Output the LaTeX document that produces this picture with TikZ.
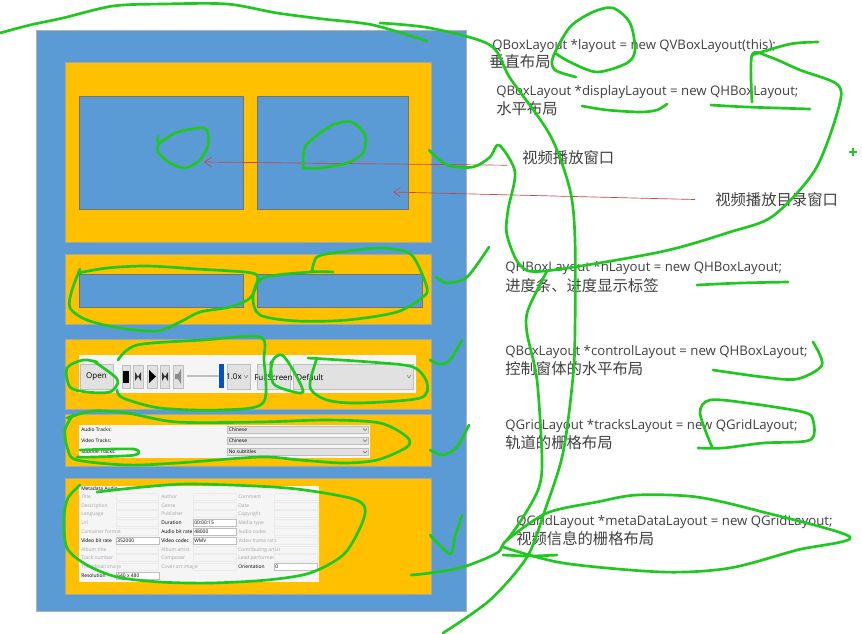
\documentclass[tikz,border=0pt]{standalone}
\usepackage{fontspec}
\setmainfont{Open Sans}
\newfontfamily\cjkfont{Noto Sans CJK SC}
\usetikzlibrary{positioning,calc,arrows.meta}
\definecolor{PanelBlue}{RGB}{91, 155, 213}
\definecolor{PanelGold}{RGB}{255, 192, 0}
\definecolor{InkGreen}{RGB}{30, 200, 30}
\definecolor{TipRed}{RGB}{200, 70, 65}
\definecolor{WidgetGrey}{RGB}{225, 225, 225}
\definecolor{WidgetEdge}{RGB}{190, 190, 190}
\definecolor{FadedText}{RGB}{165, 165, 165}
\tikzset{
    codeline/.style={anchor=west, inner sep=0pt, yshift=-1.1pt, text=black!75, font=\fontsize{9.9pt}{11pt}\selectfont},
    noteline/.style={anchor=west, inner sep=0pt, text=black!75, font=\fontsize{11.5pt}{13pt}\selectfont\cjkfont},
    inkline/.style={draw=InkGreen, line width=2pt, line cap=round, line join=round},
    tipline/.style={draw=TipRed, line width=0.5pt, -{Straight Barb[length=5pt,width=7pt]}},
    panel/.style={fill=PanelGold, draw=black!35, line width=0.3pt},
    screen/.style={fill=PanelBlue, draw=black!55, line width=0.4pt},
    widget/.style={fill=WidgetGrey, draw=WidgetEdge, line width=0.4pt},
    field/.style={fill=white, draw=WidgetEdge, line width=0.4pt},
    tinytext/.style={anchor=west, inner sep=0pt, font=\fontsize{3.7pt}{4pt}\selectfont},
    smalltext/.style={anchor=center, inner sep=0pt, font=\fontsize{6pt}{7pt}\selectfont}
}

\begin{document}
\begin{tikzpicture}[x=0.75pt,y=-0.75pt]
    \useasboundingbox (0,0) rectangle (862,633);
    \fill[white] (0,0) rectangle (862,633);
    \draw[fill=PanelBlue, draw=black!30, line width=0.3pt] (36,30) rectangle (466,611);
    \draw[panel] (65,62) rectangle (431,242);
    \draw[panel] (65,254) rectangle (431,324);
    \draw[panel] (65,339) rectangle (431,409);
    \draw[panel] (65,414) rectangle (431,466);
    \draw[panel] (65,478) rectangle (431,594);
    \draw[screen] (79,96) rectangle (243,209);
    \draw[screen] (257,96) rectangle (408,209);
    \draw[screen] (79,274) rectangle (243,307);
    \draw[screen] (257,274) rectangle (422,307);

    \fill[white!96!black] (79,355) rectangle (416,393);
    \draw[widget] (80,364) rectangle (113,389);
    \node[smalltext] (openBtn) at (96.5,377) {Open};
    \draw[widget] (122,365) rectangle (130,388);
    \fill[black] (123,371) rectangle (129,383);
    \draw[widget] (133,365) rectangle (143,388);
    \fill[black!80] (135,372) -- (138,376.5) -- (135,381) -- cycle (141,372) -- (138,376.5) -- (141,381) -- cycle;
    \draw[widget] (147,365) rectangle (157,388);
    \fill[black] (149,370) -- (156,376.5) -- (149,383) -- cycle;
    \draw[widget] (160,365) rectangle (169,388);
    \fill[black!80] (162,372) -- (165,376.5) -- (162,381) -- cycle (168,372) -- (165,376.5) -- (168,381) -- cycle;
    \draw[widget] (173,365) rectangle (183,388);
    \fill[black!45] (175,374) -- (178,374) -- (181,369) -- (181,384) -- (178,379) -- (175,379) -- cycle;
    \fill[WidgetEdge] (187,374.5) rectangle (220,376.5);
    \fill[blue!60!cyan!80!black] (219,364) rectangle (224,388);
    \draw[widget] (227,364) rectangle (250,389);
    \node[smalltext] (rateBtn) at (234,377) {1.0x};
    \draw[black!60, line width=0.3pt] (244,375) -- (246,378) -- (248,375);
    \draw[widget] (257,364) rectangle (290,389);
    \node[smalltext] (fullBtn) at (273.5,377) {FullScreen};
    \draw[widget] (293,364) rectangle (413,389);
    \node[smalltext, anchor=west] (modeBox) at (296,377) {Default};
    \draw[black!60, line width=0.3pt] (407,375) -- (409,378) -- (411,375);

    \fill[white!96!black] (79,425) rectangle (370,458);
    \foreach \rowy/\txt/\val in {429.5/Audio Tracks:/Chinese,440.5/Video Tracks:/Chinese,452/Subtitle Tracks:/No subtitles}{
        \node[tinytext] at (81,\rowy) {\txt};
        \draw[widget] (227,\rowy-3.7) rectangle (368,\rowy+3.7);
        \node[tinytext] at (228.5,\rowy) {\val};
        \draw[black!60, line width=0.3pt] (363,\rowy-1) -- (365,\rowy+1) -- (367,\rowy-1);
    }

    \fill[white!96!black] (79,486) rectangle (319,582);
    \node[tinytext] (metaHead) at (81,489) {Metadata Audio};
    \foreach \rowy/\one/\two/\three in {497/Title/Author/Comment,506/Description/Genre/Date,514/Language/Publisher/Copyright,523/Url/Duration/Media type,532/Container format/Audio bit rate/Audio codec,541/Video bit rate/Video codec/Video frame rate,550/Album title/Album artist/Contributing artist,558/Track number/Composer/Lead performer,567/Thumbnail image/Cover art image/}{
        \node[tinytext, text=FadedText] at (81,\rowy) {\one};
        \node[tinytext, text=FadedText] at (161,\rowy) {\two};
        \node[tinytext, text=FadedText] at (238,\rowy) {\three};
        \draw[black!8, line width=0.3pt] (116,\rowy-3.5) rectangle (158,\rowy+3.5);
        \draw[black!8, line width=0.3pt] (193,\rowy-3.5) rectangle (236,\rowy+3.5);
        \draw[black!8, line width=0.3pt] (274,\rowy-3.5) rectangle (317,\rowy+3.5);
    }
    \foreach \cx/\rowy/\txt in {161/523/Duration,161/532/Audio bit rate,81/541/Video bit rate,161/541/Video codec,238/567/Orientation,81/576/Resolution}{
        \fill[white!96!black] (\cx,\rowy-2.5) rectangle (\cx+32,\rowy+2.5);
        \node[tinytext, text=black] at (\cx,\rowy) {\txt};
    }
    \foreach \fx/\rowy/\txt in {193/523/00:00:15,193/532/48000,116/541/352000,193/541/WMV,274/567/0,116/576/640 x 480}{
        \draw[field] (\fx,\rowy-3.5) rectangle (\fx+43,\rowy+3.5);
        \node[tinytext] at (\fx+1,\rowy) {\txt};
    }

    \node[codeline] (mainCode) at (492,45) {QBoxLayout *layout = new QVBoxLayout(this);};
    \node[noteline] (mainNote) at (489,62) {垂直布局};
    \node[codeline] (displayCode) at (496,91) {QBoxLayout *displayLayout = new QHBoxLayout;};
    \node[noteline] (displayNote) at (496,109) {水平布局};
    \node[noteline] (playerLabel) at (522,158) {视频播放窗口};
    \node[noteline] (listLabel) at (715,200) {视频播放目录窗口};
    \node[codeline] (hCode) at (505,267) {QHBoxLayout *hLayout = new QHBoxLayout;};
    \node[noteline] (hNote) at (505,286) {进度条、进度显示标签};
    \node[codeline] (controlCode) at (505,351) {QBoxLayout *controlLayout = new QHBoxLayout;};
    \node[noteline] (controlNote) at (505,369) {控制窗体的水平布局};
    \node[codeline] (tracksCode) at (505,425) {QGridLayout *tracksLayout = new QGridLayout;};
    \node[noteline] (tracksNote) at (505,443) {轨道的栅格布局};
    \node[codeline] (metaCode) at (516,521) {QGridLayout *metaDataLayout = new QGridLayout;};
    \node[noteline] (metaNote) at (516,539) {视频信息的栅格布局};

    \coordinate (playerTip) at (204,162);
    \coordinate (listTip) at (393,192);
    \draw[tipline, shorten <=11pt] (playerLabel.south west) -- (playerTip);
    \draw[tipline, shorten <=15pt] (listLabel.west) -- (listTip);

    \draw[inkline] plot[smooth] coordinates {(0,33) (30,25) (63,18) (113,6) (163,4) (227,4) (277,13) (323,19) (373,25) (427,41)};
    \draw[inkline] plot[smooth] coordinates {(380,23) (430,28) (490,45) (510,78) (550,135) (570,190) (575,240) (575,330) (573,377) (563,453) (545,510) (527,557) (490,600) (443,633)};
    \draw[inkline] plot[smooth] coordinates {(429,150) (447,165) (473,167) (490,157) (499,145) (515,172) (508,210) (507,235) (520,265) (545,271) (660,252) (730,232) (773,216) (815,170) (838,110) (838,85) (800,70) (770,57) (752,55) (752,102)};
    \draw[inkline] plot[smooth] coordinates {(752,55) (790,44) (818,42)};
    \draw[inkline] plot[smooth] coordinates {(547,271) (528,310) (527,333) (537,380) (542,460) (538,490) (520,522) (507,540)};
    \draw[inkline] plot[smooth] coordinates {(411,575) (430,573) (463,567) (497,553) (507,540) (547,513) (597,502) (637,495) (697,497) (763,512) (850,537) (797,550) (730,568) (663,572) (563,563) (503,547)};
    \draw[inkline] plot[smooth] coordinates {(503,555) (530,556) (557,555)};

    \draw[inkline] plot[smooth] coordinates {(576,77) (555,70) (553,57) (570,27) (593,12) (613,8) (630,23) (635,50) (627,63) (597,72) (570,62) (555,53)};
    \draw[inkline] plot[smooth] coordinates {(582,106) (607,110) (640,112) (657,110) (667,104)};
    \draw[inkline] plot[smooth] coordinates {(711,105) (747,107) (810,109)};
    \draw[inkline] plot[smooth] coordinates {(697,285) (740,283) (788,282)};
    \draw[inkline] plot[smooth] coordinates {(713,370) (763,377) (797,379) (822,365) (813,342)};
    \draw[inkline] plot[smooth] coordinates {(698,448) (723,448) (763,443) (810,440) (813,420) (803,412) (747,403) (710,400) (700,413) (712,447)};
    \draw[InkGreen, line width=0.9pt] (849,152) -- (857,152) (853,148) -- (853,156);

    \draw[inkline] plot[smooth] coordinates {(158,136) (159,143) (175,133) (198,128) (207,130) (208,145) (200,160) (185,168) (170,163) (158,152) (159,143)};
    \draw[inkline] plot[smooth] coordinates {(303,168) (305,147) (320,133) (335,124) (352,122) (365,135) (363,153) (347,163) (320,168) (303,168)};
    \draw[inkline] plot[smooth] coordinates {(78,273) (107,268) (147,266) (197,269) (252,273) (257,282) (250,298) (230,307) (200,312) (180,322) (157,331) (120,328) (87,320) (70,308) (72,290) (80,269)};
    \draw[inkline] plot[smooth] coordinates {(333,272) (310,272) (263,278) (253,297) (260,315) (297,321) (347,320) (397,312) (423,297) (427,288) (417,263) (407,252) (380,248) (340,252) (317,257) (312,272)};

    \draw[inkline] plot[smooth] coordinates {(97,362) (83,360) (67,368) (70,387) (87,392) (110,392) (118,382) (113,375) (95,362)};
    \draw[inkline] plot[smooth] coordinates {(118,360) (137,345) (203,340) (260,337) (264,360) (263,403) (220,410) (160,408) (123,398) (117,390)};
    \draw[inkline] plot[smooth] coordinates {(270,377) (273,360) (282,355) (293,370) (303,392) (287,390) (273,383) (271,362)};
    \draw[inkline] plot[smooth] coordinates {(308,358) (370,362) (413,367) (427,383) (420,398) (360,403) (327,400) (310,387) (317,358)};
    \draw[inkline] plot[smooth] coordinates {(73,415) (65,430) (68,450) (77,460) (127,465) (177,463) (260,457) (300,460) (343,463) (377,460) (407,447) (407,437) (380,423) (327,420) (260,422) (177,422) (127,413) (93,411) (67,418)};
    \draw[inkline] plot[smooth] coordinates {(80,450) (133,449) (135,455) (93,457) (77,457)};
    \draw[inkline] plot[smooth] coordinates {(80,485) (68,498) (64,518) (67,548) (87,565) (117,577) (160,582) (210,583) (267,580) (310,573) (343,555) (360,528) (365,508) (350,498) (287,488) (193,484) (143,487) (97,492)};

    \draw[inkline] plot[smooth] coordinates {(436,277) (447,283) (467,277) (489,247)};
    \draw[inkline] plot[smooth] coordinates {(430,360) (440,364) (450,360) (462,340)};
    \draw[inkline] plot[smooth] coordinates {(430,450) (443,455) (457,447) (469,425)};
    \draw[inkline] plot[smooth] coordinates {(430,535) (450,554) (455,537) (462,515)};
\end{tikzpicture}
\end{document}
